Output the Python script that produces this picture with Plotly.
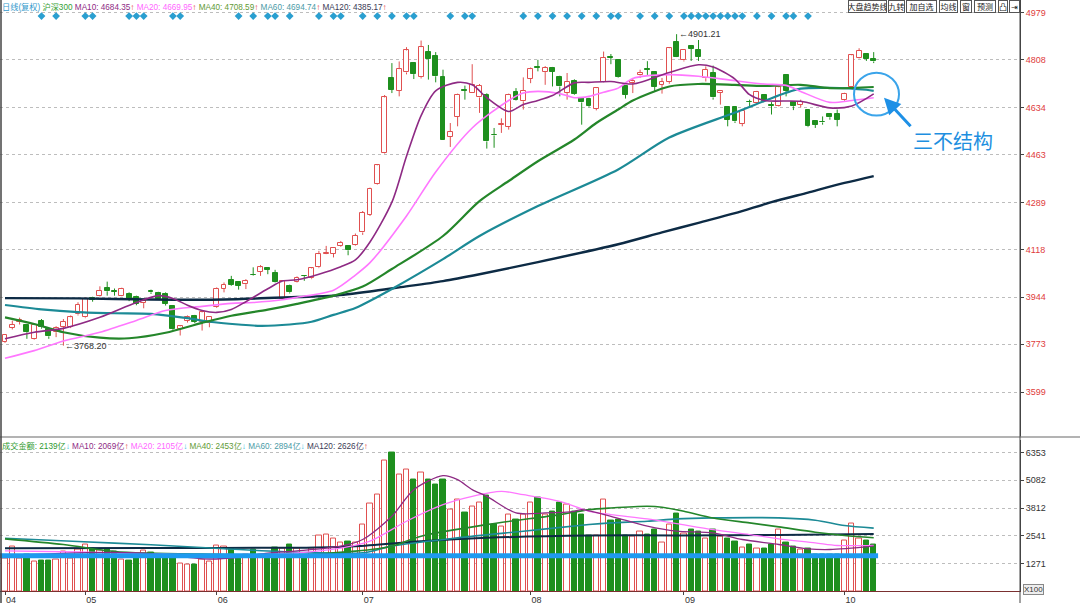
import plotly.graph_objects as go

W, H = 1080, 605

# ---------------- data ----------------
month_labels = ["04", "05", "06", "07", "08", "09", "10"]
month_start = [0, 11, 29, 49, 72, 93, 115]

opens = [3781, 3834, 3856, 3843, 3793, 3859, 3829, 3817, 3837, 3837,
         3882, 3871, 3940, 3950, 3978, 3966, 3950, 3956, 3946, 3923,
         3966, 3958, 3956, 3911, 3829, 3859, 3877, 3853, 3851, 3908,
         3976, 4007, 4001, 3992, 4026, 4037, 4049, 4034, 3938, 3986,
         4001, 4023, 4013, 4053, 4103, 4103, 4131, 4131, 4135, 4180,
         4244, 4357, 4470, 4742, 4696, 4762, 4798, 4745, 4837, 4822,
         4744, 4528, 4600, 4699, 4687, 4671, 4681, 4536, 4571, 4564,
         4691, 4657, 4738, 4782, 4764, 4780, 4745, 4687, 4732, 4669,
         4667, 4629, 4729, 4818, 4808, 4711, 4725, 4751, 4773, 4763,
         4717, 4727, 4872, 4806, 4860, 4844, 4741, 4760, 4687, 4635,
         4635, 4575, 4655, 4650, 4679, 4643, 4640, 4751, 4654, 4645,
         4627, 4584, 4582, 4611, 4611, 4663, 4708, 4816, 4830, 4812]
highs = [3810, 3859, 3870, 3846, 3846, 3865, 3832, 3839, 3865, 3878,
         3926, 3944, 3946, 3984, 4001, 3976, 3979, 3962, 3950, 3938,
         3972, 3964, 3962, 3914, 3840, 3878, 3880, 3892, 3876, 3980,
         3998, 4022, 4003, 4010, 4053, 4061, 4050, 4044, 4006, 3990,
         4020, 4025, 4051, 4113, 4131, 4127, 4149, 4133, 4176, 4258,
         4343, 4427, 4680, 4796, 4802, 4854, 4800, 4878, 4862, 4836,
         4772, 4578, 4685, 4714, 4792, 4720, 4686, 4560, 4595, 4685,
         4705, 4744, 4780, 4808, 4785, 4782, 4750, 4760, 4737, 4672,
         4670, 4709, 4838, 4829, 4810, 4714, 4742, 4772, 4803, 4765,
         4742, 4853, 4901.21, 4846, 4862, 4880, 4784, 4787, 4698, 4637,
         4637, 4627, 4663, 4695, 4682, 4654, 4711, 4753, 4656, 4663,
         4629, 4587, 4602, 4613, 4627, 4688, 4826, 4850, 4832, 4836]
lows = [3778, 3827, 3845, 3793, 3790, 3830, 3793, 3799, 3768.2, 3832,
        3878, 3868, 3928, 3947, 3950, 3950, 3948, 3930, 3915, 3904,
        3956, 3935, 3914, 3826, 3805, 3852, 3850, 3823, 3835, 3905,
        3962, 3986, 3972, 3974, 4022, 4022, 4028, 3998, 3935, 3958,
        3998, 4004, 4010, 4050, 4101, 4089, 4128, 4097, 4132, 4171,
        4240, 4354, 4467, 4687, 4675, 4755, 4738, 4740, 4736, 4726,
        4517, 4491, 4566, 4663, 4687, 4615, 4485, 4488, 4542, 4554,
        4660, 4627, 4723, 4766, 4717, 4711, 4675, 4663, 4681, 4572,
        4635, 4624, 4726, 4792, 4742, 4667, 4687, 4742, 4753, 4693,
        4685, 4721, 4818, 4802, 4804, 4804, 4729, 4663, 4645, 4566,
        4578, 4566, 4638, 4647, 4655, 4609, 4638, 4675, 4625, 4635,
        4563, 4560, 4572, 4590, 4566, 4659, 4705, 4813, 4804, 4796]
closes = [3807, 3845, 3860, 3817, 3843, 3835, 3802, 3831, 3856, 3871,
          3916, 3938, 3935, 3968, 3966, 3964, 3974, 3935, 3920, 3932,
          3962, 3938, 3920, 3829, 3838, 3874, 3856, 3889, 3874, 3974,
          3989, 3989, 3986, 4005, 4024, 4053, 4045, 4001, 4004, 3962,
          4015, 4021, 4049, 4101, 4107, 4125, 4143, 4115, 4167, 4252,
          4339, 4424, 4671, 4699, 4774, 4842, 4756, 4854, 4810, 4748,
          4518, 4546, 4681, 4696, 4717, 4714, 4511, 4533, 4573, 4681,
          4663, 4696, 4774, 4780, 4778, 4764, 4711, 4727, 4685, 4653,
          4639, 4705, 4816, 4816, 4744, 4681, 4730, 4760, 4771, 4709,
          4729, 4850, 4820, 4844, 4848, 4818, 4772, 4671, 4696, 4590,
          4584, 4623, 4654, 4691, 4659, 4641, 4708, 4696, 4639, 4655,
          4566, 4572, 4580, 4599, 4589, 4685, 4824, 4841, 4812, 4802]
volumes = [1520, 2052, 1520, 1702, 1368, 1429, 1398, 1459, 1839, 1520,
           1930, 2143, 1976, 1854, 1900, 1824, 1459, 1429, 1702, 1885,
           1778, 1702, 1490, 1672, 1276, 1246, 1246, 1444, 1368, 2098,
           2037, 1976, 1490, 1672, 1930, 1702, 1641, 1990, 1945, 2143,
           1976, 1640, 1974, 2553, 2614, 2400, 2234, 2280, 2234, 3070,
           4027, 4423, 5988, 6353, 5336, 5564, 5122, 5442, 5122, 4894,
           5137, 3754, 4179, 3587, 3876, 4073, 4392, 3039, 2948, 3525,
           3267, 3495, 4042, 4270, 3495, 3648, 4042, 3967, 3663, 3525,
           2537, 2537, 4179, 3222, 3298, 2553, 2530, 2736, 2614, 2811,
           2234, 3055, 3572, 2659, 2842, 2751, 2432, 2842, 2492, 2432,
           2280, 2022, 2127, 1974, 1974, 2158, 2827, 2219, 2036, 1915,
           1961, 1670, 1670, 1670, 1700, 2325, 3085, 2432, 2310, 2139]

# price moving averages, read at the bars listed in *_idx
ma10_idx = [0, 4, 8, 13, 18, 21, 23, 25, 27, 29, 31, 33, 36, 38, 40, 43, 46, 48, 50, 53, 55, 57, 59,
            62, 64, 66, 69, 71, 73, 75, 78, 80, 83, 86, 91, 95, 97, 100, 102, 104, 109, 113, 116, 119]
ma10_val = [3793, 3817, 3831, 3871, 3925, 3950, 3940, 3915, 3896, 3889, 3900, 3928, 3975, 4003, 4008,
            4028, 4055, 4080, 4145, 4290, 4457, 4605, 4695, 4726, 4717, 4670, 4620, 4645, 4660, 4678,
            4724, 4726, 4729, 4720, 4762, 4790, 4782, 4738, 4681, 4660, 4657, 4633, 4640, 4684]
ma20_idx = [0, 4, 8, 13, 18, 22, 27, 31, 34, 38, 40, 45, 48, 50, 55, 59, 64, 69, 71, 73, 76, 78, 80,
            82, 84, 86, 91, 95, 100, 104, 107, 109, 113, 116, 119]
ma20_val = [3722, 3750, 3785, 3817, 3860, 3896, 3911, 3922, 3925, 3935, 3944, 3970, 4025, 4070, 4240,
            4400, 4560, 4660, 4687, 4693, 4685, 4670, 4675, 4690, 4705, 4740, 4754, 4748, 4732, 4720,
            4715, 4693, 4653, 4660, 4670]
ma40_idx = [0, 4, 8, 13, 17, 22, 27, 31, 36, 40, 45, 49, 53, 60, 65, 69, 73, 78, 81, 84, 86, 91, 95,
            100, 104, 109, 113, 119]
ma40_val = [3871, 3847, 3817, 3797, 3795, 3815, 3851, 3877, 3899, 3920, 3950, 3983, 4047, 4167, 4294,
            4367, 4439, 4518, 4578, 4627, 4660, 4711, 4720, 4717, 4713, 4717, 4705, 4709]
ma60_idx = [0, 5, 10, 15, 20, 25, 28, 32, 35, 39, 42, 45, 48, 51, 53, 60, 65, 73, 84, 91, 100, 107,
            109, 113, 118, 119]
ma60_val = [3916, 3900, 3890, 3886, 3884, 3868, 3855, 3845, 3840, 3845, 3855, 3880, 3905, 3945, 3974,
            4083, 4167, 4276, 4409, 4525, 4616, 4688, 4703, 4706, 4699, 4695]
ma120_idx = [0, 10, 20, 30, 40, 45, 50, 54, 60, 65, 73, 84, 90, 95, 100, 105, 110, 115, 119]
ma120_val = [3941, 3940, 3936, 3936, 3945, 3950, 3965, 3980, 4003, 4028, 4072, 4137, 4180, 4215, 4250,
             4290, 4325, 4360, 4385]

# turnover moving averages
vma10_idx = [0, 5, 10, 15, 20, 25, 28, 32, 36, 40, 46, 49, 53, 56, 60, 62, 64, 66, 70, 74, 78, 79,
             83, 88, 92, 97, 101, 106, 110, 113, 119]
vma10_val = [1650, 1700, 1760, 1780, 1720, 1560, 1480, 1560, 1750, 1850, 2067, 2371, 3435, 4651, 5290,
             5107, 4651, 4347, 3587, 3587, 3663, 3739, 3435, 2979, 2751, 2675, 2371, 2143, 1945, 1914, 2069]
vma20_idx = [0, 10, 20, 30, 40, 46, 50, 55, 60, 64, 68, 71, 76, 80, 83, 88, 92, 97, 102, 106, 111, 114, 119]
vma20_val = [1850, 1800, 1720, 1660, 1760, 1976, 2295, 3207, 3967, 4347, 4575, 4423, 4119, 3663, 3511,
             3313, 3100, 2827, 2599, 2402, 2220, 2098, 2105]
vma40_idx = [0, 8, 15, 20, 27, 40, 48, 53, 57, 66, 76, 80, 83, 88, 90, 93, 97, 102, 106, 111, 115, 119]
vma40_val = [2400, 2140, 1824, 1748, 1702, 1672, 1839, 2067, 2523, 3055, 3511, 3739, 3815, 3891, 3850,
             3663, 3359, 3131, 2949, 2706, 2554, 2453]
vma60_idx = [0, 10, 20, 30, 40, 49, 53, 62, 71, 80, 83, 88, 92, 97, 106, 111, 115, 119]
vma60_val = [2430, 2280, 2130, 1950, 1790, 1763, 2067, 2447, 2751, 3055, 3131, 3207, 3313, 3359, 3359,
             3252, 3009, 2894]
vma120_idx = [0, 20, 40, 48, 57, 66, 80, 92, 106, 119]
vma120_val = [1976, 1985, 1995, 2067, 2295, 2447, 2554, 2560, 2580, 2626]

price_ticks = [4979, 4808, 4634, 4463, 4289, 4118, 3944, 3773, 3599]
vol_ticks = [6353, 5082, 3812, 2541, 1271]
diamond_idx = [5, 7, 11, 12, 17, 18, 19, 23, 24, 32, 34, 36, 37, 39, 43, 45, 46, 49, 51, 53, 55, 56,
               61, 63, 64, 71, 73, 75, 77, 79, 81, 83, 84, 87, 89, 91, 93, 94, 95, 96, 97, 98, 99,
               100, 101, 103, 105, 107, 108, 110]
high_idx, high_val = 92, 4901.21
low_idx, low_val = 8, 3768.20
vol_level = 1623
vol_level_end = 119.6

# ---------------- styling ----------------
RED = "#e05050"
GRN = "#1e8f1e"
C_MA10 = "#8e2a84"
C_MA20 = "#ff77ff"
C_MA40 = "#24862a"
C_MA60 = "#1c8a96"
C_MA120 = "#0d2b45"
FONT = "Noto Sans CJK SC"
TFONT = "Liberation Sans"
LFONT = "Liberation Sans, Noto Sans CJK SC"

n = len(closes)
xs = list(range(n))
up = [c >= o for o, c in zip(opens, closes)]
fill = ["#ffffff" if u else GRN for u in up]
edge = [RED if u else GRN for u in up]
body_base = [min(o, c) for o, c in zip(opens, closes)]
body_h = [max(abs(c - o), 1.5) for o, c in zip(opens, closes)]

fig = go.Figure()

# wicks (split at the body so hollow candles stay hollow)
for flag, col in ((True, RED), (False, GRN)):
    wx, wy = [], []
    for i in xs:
        if up[i] != flag:
            continue
        top = max(opens[i], closes[i])
        bot = min(opens[i], closes[i])
        wx += [i, i, None, i, i, None]
        wy += [highs[i], top, None, bot, lows[i], None]
    fig.add_trace(go.Scatter(x=wx, y=wy, mode="lines", line=dict(color=col, width=1),
                             hoverinfo="skip", showlegend=False, xaxis="x", yaxis="y"))

fig.add_trace(go.Bar(x=xs, y=body_h, base=body_base, width=0.68,
                     marker=dict(color=fill, line=dict(color=edge, width=1)),
                     hoverinfo="skip", showlegend=False, xaxis="x", yaxis="y"))

def ma_line(idx, val, color, width, yaxis):
    fig.add_trace(go.Scatter(x=idx, y=val, mode="lines",
                             line=dict(color=color, width=width, shape="spline", smoothing=0.8),
                             hoverinfo="skip", showlegend=False, xaxis="x" if yaxis == "y" else "x2",
                             yaxis=yaxis))

ma_line(ma120_idx, ma120_val, C_MA120, 2.4, "y")
ma_line(ma60_idx, ma60_val, C_MA60, 2.2, "y")
ma_line(ma40_idx, ma40_val, C_MA40, 2.2, "y")
ma_line(ma20_idx, ma20_val, C_MA20, 1.6, "y")
ma_line(ma10_idx, ma10_val, C_MA10, 1.6, "y")

# signal diamonds
fig.add_trace(go.Scatter(x=diamond_idx, y=[4967] * len(diamond_idx), mode="markers",
                         marker=dict(symbol="diamond", size=6, color="#2a9fd0"),
                         hoverinfo="skip", showlegend=False, xaxis="x", yaxis="y"))

# volume bars
fig.add_trace(go.Bar(x=xs, y=volumes, width=0.72,
                     marker=dict(color=fill, line=dict(color=edge, width=1)),
                     hoverinfo="skip", showlegend=False, xaxis="x2", yaxis="y2"))
ma_line(vma120_idx, vma120_val, C_MA120, 2.0, "y2")
ma_line(vma60_idx, vma60_val, C_MA60, 1.6, "y2")
ma_line(vma40_idx, vma40_val, C_MA40, 1.6, "y2")
ma_line(vma20_idx, vma20_val, C_MA20, 1.3, "y2")
ma_line(vma10_idx, vma10_val, C_MA10, 1.3, "y2")
fig.add_trace(go.Scatter(x=[-0.7, vol_level_end], y=[vol_level, vol_level], mode="lines",
                         line=dict(color="#1e9af0", width=5), hoverinfo="skip", showlegend=False,
                         xaxis="x2", yaxis="y2"))

XR = [-5 / 7.3, 1015 / 7.3]
PX_PER_PT = 0.2758
p_top = 4808 + 60 / PX_PER_PT
p_bot = 4808 - 378 / PX_PER_PT

fig.update_layout(
    width=W, height=H, margin=dict(l=0, r=0, t=0, b=0),
    paper_bgcolor="white", plot_bgcolor="white", barmode="overlay", bargap=0,
    showlegend=False,
    xaxis=dict(domain=[0, 1020 / W], range=XR, showticklabels=False, showgrid=False,
               zeroline=False, ticks="", anchor="y"),
    yaxis=dict(domain=[1 - 438 / H, 1], range=[p_bot, p_top], side="right",
               tickvals=price_ticks, ticktext=[str(t) for t in price_ticks],
               tickfont=dict(family=TFONT, size=9, color="#e03c3c"),
               showgrid=True, gridcolor="#bdbdbd", griddash="dot", gridwidth=1,
               zeroline=False, showline=True, linecolor="#444", linewidth=1,
               ticks="outside", ticklen=3, tickcolor="#444", anchor="x"),
    xaxis2=dict(domain=[0, 1020 / W], range=XR, matches="x", anchor="y2",
                tickvals=month_start, ticktext=month_labels, ticks="outside", ticklen=3,
                tickcolor="#444", tickfont=dict(family=TFONT, size=9, color="#333"),
                ticklabelposition="outside right",
                showgrid=False, zeroline=False, showline=True, linecolor="#7a3030", linewidth=1),
    yaxis2=dict(domain=[1 - 593.3 / H, 1 - 441 / H], range=[0, 152.3 / 0.02193], side="right",
                tickvals=vol_ticks, ticktext=[str(t) for t in vol_ticks],
                tickfont=dict(family=TFONT, size=9, color="#333"),
                showgrid=True, gridcolor="#bdbdbd", griddash="dot", gridwidth=1,
                zeroline=False, showline=True, linecolor="#444", linewidth=1,
                ticks="outside", ticklen=3, tickcolor="#444", anchor="x2"),
)

def px(x):
    return x / W

def py(y):
    return 1 - y / H

shapes = [
    dict(type="line", xref="paper", yref="paper", x0=0, x1=1, y0=py(438.5), y1=py(438.5),
         line=dict(color="#9a9a9a", width=1.5)),
    dict(type="line", xref="paper", yref="paper", x0=px(1020), x1=px(1020), y0=0, y1=1,
         line=dict(color="#444", width=1)),
    dict(type="line", xref="paper", yref="paper", x0=px(1), x1=px(1), y0=0, y1=1,
         line=dict(color="#444", width=1.5)),
    dict(type="circle", xref="paper", yref="paper", x0=px(854), x1=px(899), y0=py(116), y1=py(73),
         line=dict(color="#3aa4ea", width=2)),
    dict(type="path", xref="paper", yref="paper",
         path=f"M {px(899)} {py(0.5)} L {px(905)} {py(0.5)} L {px(905)} {py(6)} Z",
         fillcolor="#e02020", line=dict(width=0)),
]
fig.update_layout(shapes=shapes)

def span(t, c):
    return f"<span style='color:{c}'>{t}</span>"

UPA = span("↑", "#e03030")
DNA = span("↓", "#33bbdd")

top_legend = (span("日线(复权)", "#3399cc") + " " + span("沪深300", "#33a033") + " "
              + span("MA10: 4684.35", C_MA10) + UPA + " "
              + span("MA20: 4669.95", "#ff66ff") + UPA + " "
              + span("MA40: 4708.59", "#5f9a35") + UPA + " "
              + span("MA60: 4694.74", "#4a9aa6") + UPA + " "
              + span("MA120: 4385.17", "#3a3a55") + UPA)
vol_legend = (span("成交金额: 2139亿", "#2f9a2f") + DNA + " "
              + span("MA10: 2069亿", C_MA10) + UPA + " "
              + span("MA20: 2105亿", "#ff66ff") + DNA + " "
              + span("MA40: 2453亿", "#5f9a35") + DNA + " "
              + span("MA60: 2894亿", "#4a9aa6") + DNA + " "
              + span("MA120: 2626亿", "#3a3a55") + UPA)

ann = [
    dict(x=0, y=py(0), xref="paper", yref="paper", xanchor="left", yanchor="top",
         text=top_legend, showarrow=False, font=dict(family=LFONT, size=8.2)),
    dict(x=0, y=py(440), xref="paper", yref="paper", xanchor="left", yanchor="top",
         text=vol_legend, showarrow=False, font=dict(family=LFONT, size=8.2)),
    dict(x=high_idx, y=high_val, xref="x", yref="y", xanchor="left", yanchor="middle",
         text="←" + f"{high_val:.2f}", showarrow=False, font=dict(family=TFONT, size=9, color="#333")),
    dict(x=low_idx, y=low_val, xref="x", yref="y", xanchor="left", yanchor="middle",
         text="←" + f"{low_val:.2f}", showarrow=False, font=dict(family=TFONT, size=9, color="#333")),
    dict(x=px(884), y=py(98), xref="paper", yref="paper", ax=28, ay=30, axref="pixel", ayref="pixel",
         text="", showarrow=True, arrowhead=2, arrowsize=1.1, arrowwidth=3, arrowcolor="#1e90e6"),
    dict(x=px(953), y=py(141), xref="paper", yref="paper", xanchor="center", yanchor="middle",
         text="三不结构", showarrow=False, font=dict(family=FONT, size=20, color="#1e8fe0")),
    dict(x=px(1023), y=py(591), xref="paper", yref="paper", xanchor="left", yanchor="middle",
         text="X100", showarrow=False, font=dict(family=TFONT, size=8, color="#333"),
         bgcolor="#eeeeee", bordercolor="#888", borderwidth=1, borderpad=0),
]

buttons = [("大盘趋势线", 848, 887), ("九转", 888, 905), ("加自选", 906, 937), ("均线", 939, 958),
           ("窗", 960, 972), ("预测", 974, 996), ("凸", 998, 1008), ("⇥", 1009, 1020)]
for t, x0, x1 in buttons:
    ann.append(dict(x=px(x0), y=py(0), xref="paper", yref="paper", xanchor="left", yanchor="top",
                    text=t, showarrow=False, width=x1 - x0 - 2, height=11,
                    font=dict(family=FONT, size=8, color="#222"),
                    bgcolor="white", bordercolor="#555", borderwidth=1, borderpad=0))
fig.update_layout(annotations=ann)

fig.write_html("out.html", config={"displayModeBar": False},
               post_script="document.body.style.margin='0px';")
